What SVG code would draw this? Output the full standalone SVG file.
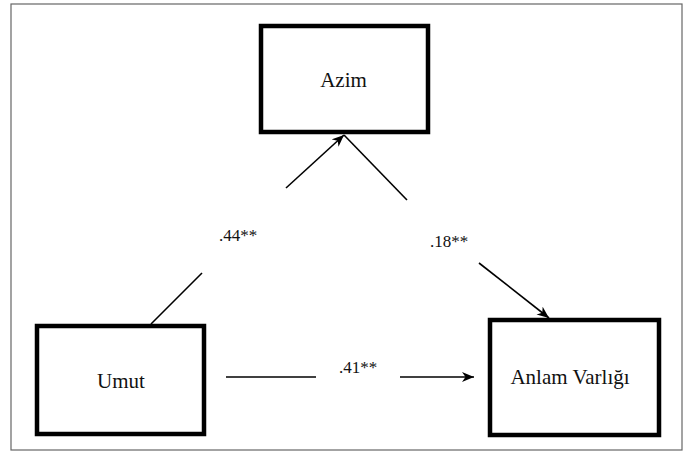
<svg xmlns="http://www.w3.org/2000/svg" width="686" height="460" viewBox="0 0 686 460">
<style>
.box{fill:#fff;stroke:#000;stroke-width:4.5}
.node{font-family:"Liberation Serif","Times New Roman",serif;font-size:21px;fill:#111;text-anchor:middle}
.lbl{font-family:"Liberation Serif","Times New Roman",serif;font-size:17px;fill:#111;text-anchor:middle}
.ln{stroke:#000;stroke-width:1.6;fill:none}
</style>
<defs>
<marker id="ah" markerUnits="userSpaceOnUse" markerWidth="13" markerHeight="11" refX="12" refY="5" orient="auto">
<path d="M0,0 L12,5 L0,10 L3.5,5 z" fill="#000"/>
</marker>
</defs>
<rect x="0" y="0" width="686" height="460" fill="#fff"/>
<rect x="11" y="4" width="671" height="446" fill="none" stroke="#666" stroke-width="1.2"/>
<g id="connectors">
<line class="ln" x1="151" y1="324" x2="202" y2="273"/>
<line class="ln" x1="286" y1="188" x2="344" y2="135" marker-end="url(#ah)"/>
<line class="ln" x1="344" y1="135" x2="407" y2="200"/>
<line class="ln" x1="479" y1="263" x2="549" y2="318" marker-end="url(#ah)"/>
<line class="ln" x1="226" y1="377" x2="316" y2="377"/>
<line class="ln" x1="400" y1="377" x2="474" y2="377" marker-end="url(#ah)"/>
<text class="lbl" x="238" y="241">.44**</text>
<text class="lbl" x="449" y="247">.18**</text>
<text class="lbl" x="358" y="373">.41**</text>
</g>
<g id="azim">
<rect class="box" x="261" y="26" width="167" height="106"/>
<text class="node" x="343.5" y="87">Azim</text>
</g>
<g id="umut">
<rect class="box" x="37" y="326" width="167" height="108"/>
<text class="node" x="121" y="388">Umut</text>
</g>
<g id="anlam">
<rect class="box" x="490" y="320" width="169" height="115"/>
<text class="node" x="570" y="384">Anlam Varlığı</text>
</g>
</svg>
